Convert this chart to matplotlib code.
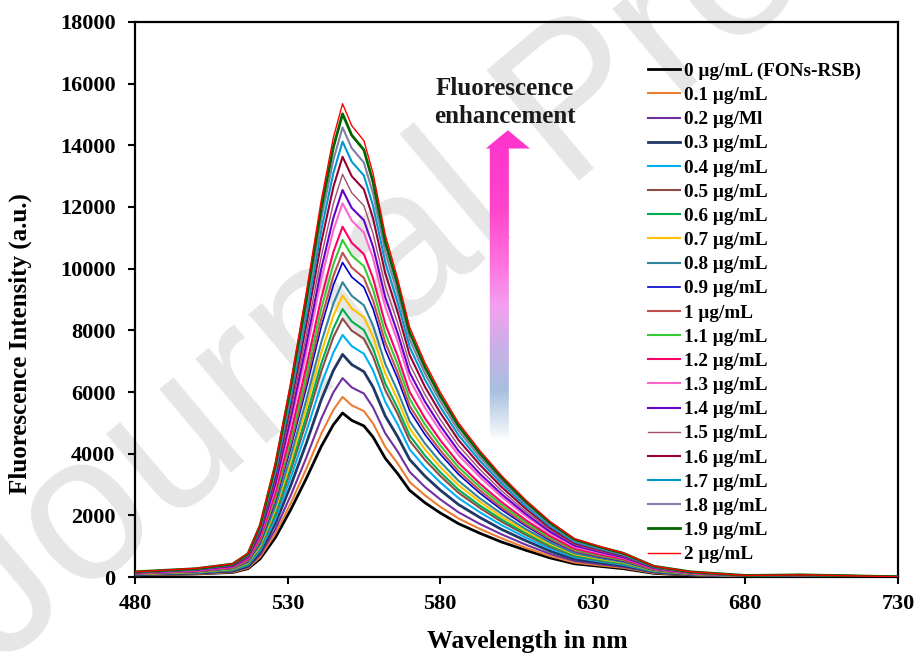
import numpy as np
import matplotlib
matplotlib.use('Agg')
import matplotlib.pyplot as plt
from matplotlib.colors import LinearSegmentedColormap
from matplotlib.patches import Polygon

plt.rcParams['font.family'] = ['Liberation Serif', 'DejaVu Serif']
plt.rcParams['font.weight'] = 'bold'

# wavelength grid (nm)
wl = [480, 500, 512, 517, 521, 526, 531, 536, 541, 545, 548, 551, 555, 558, 562,
      566, 570, 575, 580, 586, 593, 600, 608, 616, 624, 632, 640, 650, 662, 680, 698, 730]

labels = ['0 µg/mL (FONs-RSB)', '0.1 µg/mL', '0.2 µg/Ml', '0.3 µg/mL', '0.4 µg/mL',
          '0.5 µg/mL', '0.6 µg/mL', '0.7 µg/mL', '0.8 µg/mL', '0.9 µg/mL', '1 µg/mL',
          '1.1 µg/mL', '1.2 µg/mL', '1.3 µg/mL', '1.4 µg/mL', '1.5 µg/mL', '1.6 µg/mL',
          '1.7 µg/mL', '1.8 µg/mL', '1.9 µg/mL', '2 µg/mL']

colors = ['#000000', '#ED7D31', '#7030A0', '#1F3864', '#00B0F0', '#8E4B47', '#00B050',
          '#FFC000', '#31849B', '#0000CC', '#C0504D', '#33CC33', '#FF0066', '#FF66CC',
          '#6600CC', '#A05070', '#990033', '#0099CC', '#8080A8', '#006600', '#FF0000']

widths = [2.0, 1.5, 1.5, 2.0, 1.5, 1.5, 1.5, 1.5, 1.5, 1.2, 1.5, 1.5, 1.5, 1.5,
          1.5, 1.0, 1.5, 1.5, 1.5, 2.0, 1.0]

c00 = [60, 100, 150, 270, 590, 1280, 2180, 3170, 4230, 4940, 5320, 5080, 4900, 4540, 3850,
       3360, 2810, 2410, 2080, 1730, 1420, 1140, 870, 620, 430, 350, 270, 120, 60, 20, 20, 0]
c01 = [60, 100, 160, 290, 650, 1410, 2390, 3480, 4640, 5420, 5840, 5570, 5380, 4980, 4220,
       3690, 3080, 2650, 2280, 1900, 1560, 1260, 950, 680, 470, 380, 300, 130, 60, 20, 30, 0]
c02 = [70, 120, 180, 320, 720, 1550, 2640, 3840, 5130, 5990, 6450, 6150, 5950, 5500, 4660,
       4080, 3410, 2920, 2520, 2100, 1720, 1390, 1050, 750, 520, 420, 330, 150, 70, 20, 30, 0]
c03 = [80, 130, 200, 360, 800, 1740, 2960, 4300, 5740, 6700, 7220, 6890, 6660, 6160, 5220,
       4560, 3810, 3270, 2820, 2350, 1930, 1550, 1180, 840, 580, 470, 370, 170, 80, 20, 30, 10]
c04 = [90, 140, 220, 390, 870, 1890, 3220, 4680, 6240, 7280, 7850, 7490, 7240, 6700, 5680,
       4960, 4140, 3560, 3070, 2560, 2100, 1690, 1280, 920, 640, 510, 400, 180, 90, 20, 40, 10]
c05 = [90, 150, 230, 420, 930, 2020, 3440, 4990, 6660, 7780, 8380, 7990, 7730, 7150, 6060,
       5300, 4420, 3800, 3280, 2730, 2240, 1800, 1370, 980, 680, 540, 430, 190, 90, 30, 40, 10]
c06 = [100, 160, 240, 430, 960, 2090, 3560, 5180, 6910, 8060, 8690, 8290, 8010, 7410, 6280,
       5490, 4590, 3940, 3400, 2830, 2320, 1870, 1420, 1020, 700, 560, 440, 200, 100, 30, 40, 10]
c07 = [100, 160, 260, 460, 1010, 2200, 3740, 5440, 7260, 8470, 9130, 8710, 8420, 7790, 6600,
       5770, 4820, 4140, 3570, 2980, 2440, 1960, 1490, 1070, 740, 590, 470, 210, 100, 30, 40, 10]
c08 = [110, 170, 270, 480, 1060, 2300, 3920, 5700, 7600, 8870, 9560, 9120, 8810, 8150, 6910,
       6040, 5050, 4330, 3740, 3120, 2550, 2060, 1560, 1120, 770, 620, 490, 220, 110, 30, 40, 10]
c09 = [110, 180, 290, 510, 1130, 2460, 4180, 6080, 8110, 9470, 10200, 9730, 9400, 8700, 7370,
       6450, 5390, 4620, 3990, 3330, 2720, 2190, 1660, 1190, 830, 660, 520, 230, 110, 30, 50, 10]
c10 = [120, 190, 290, 530, 1170, 2540, 4310, 6270, 8360, 9760, 10520, 10040, 9700, 8970, 7610,
       6650, 5550, 4770, 4110, 3430, 2810, 2260, 1710, 1230, 850, 680, 540, 240, 120, 30, 50, 10]
c11 = [120, 200, 310, 550, 1210, 2630, 4480, 6510, 8690, 10140, 10930, 10430, 10080, 9320, 7900,
       6910, 5770, 4950, 4270, 3560, 2920, 2350, 1780, 1280, 890, 710, 560, 250, 120, 30, 50, 10]
c12 = [120, 200, 320, 570, 1260, 2740, 4660, 6770, 9030, 10540, 11360, 10840, 10470, 9690, 8210,
       7180, 6000, 5150, 4440, 3700, 3030, 2440, 1850, 1330, 920, 740, 580, 260, 120, 30, 50, 10]
c13 = [130, 220, 340, 610, 1350, 2920, 4970, 7220, 9640, 11250, 12120, 11560, 11170, 10340, 8760,
       7660, 6400, 5490, 4740, 3950, 3240, 2610, 1980, 1420, 980, 790, 620, 280, 130, 40, 50, 10]
c14 = [140, 230, 350, 630, 1390, 3020, 5150, 7480, 9980, 11650, 12550, 11970, 11570, 10710, 9070,
       7930, 6630, 5690, 4910, 4090, 3350, 2700, 2050, 1470, 1020, 820, 640, 290, 140, 40, 60, 10]
c15 = [140, 240, 370, 650, 1450, 3150, 5350, 7780, 10380, 12120, 13060, 12460, 12040, 11140, 9440,
       8250, 6900, 5920, 5110, 4260, 3490, 2810, 2130, 1530, 1060, 850, 670, 300, 140, 40, 60, 10]
c16 = [150, 250, 380, 680, 1510, 3280, 5590, 8120, 10840, 12650, 13630, 13000, 12570, 11630, 9850,
       8610, 7200, 6170, 5330, 4440, 3640, 2930, 2220, 1590, 1100, 890, 700, 310, 150, 40, 60, 10]
c17 = [160, 250, 400, 710, 1570, 3400, 5790, 8420, 11230, 13100, 14120, 13470, 13020, 12040, 10210,
       8920, 7460, 6400, 5520, 4600, 3770, 3040, 2300, 1650, 1140, 920, 720, 320, 160, 40, 60, 10]
c18 = [160, 260, 410, 730, 1620, 3510, 5980, 8690, 11590, 13530, 14580, 13910, 13440, 12440, 10540,
       9210, 7700, 6600, 5700, 4750, 3890, 3130, 2380, 1710, 1180, 950, 740, 340, 160, 40, 70, 10]
c19 = [170, 270, 420, 750, 1670, 3620, 6160, 8950, 11940, 13940, 15020, 14330, 13850, 12810, 10860,
       9490, 7930, 6800, 5870, 4900, 4010, 3230, 2450, 1760, 1220, 980, 770, 350, 170, 50, 70, 10]
c20 = [170, 280, 430, 770, 1700, 3700, 6290, 9150, 12200, 14250, 15350, 14640, 14150, 13090, 11100,
       9700, 8100, 6950, 6000, 5000, 4100, 3300, 2500, 1800, 1240, 1000, 780, 350, 170, 50, 70, 10]

curves = [c00, c01, c02, c03, c04, c05, c06, c07, c08, c09, c10, c11, c12, c13, c14,
          c15, c16, c17, c18, c19, c20]

fig = plt.figure(figsize=(9.16, 6.56), dpi=100)
ax = fig.add_axes([0.1474, 0.1204, 0.8329, 0.8461])
ax.set_facecolor('none')

# faint page watermark, behind everything
fig.text(-0.002, -0.018, 'Journal Pre-proof', family='Liberation Sans', fontsize=150,
         color='#E6E6E6', rotation=40, rotation_mode='anchor', ha='left', va='baseline',
         zorder=-1, fontweight='normal')

for y, c, lw, lab in zip(curves, colors, widths, labels):
    ax.plot(wl, y, color=c, lw=lw, label=lab, zorder=3)

# gradient arrow
cmap = LinearSegmentedColormap.from_list('enh', [
    (0.0, '#FFFFFF'), (0.06, '#DCE6F2'), (0.16, '#A9C0E0'), (0.30, '#C8B0E6'),
    (0.43, '#F4A0F0'), (0.58, '#FF70DD'), (0.75, '#FF44CC'), (1.0, '#FF33CC')])
grad = np.linspace(0, 1, 256).reshape(-1, 1)
sx0, sx1, hx0, hx1 = 0.465, 0.490, 0.4597, 0.5177
ay0, ay1, ayt = 0.245, 0.772, 0.805
arrow = Polygon([(sx0, ay0), (sx1, ay0), (sx1, ay1), (hx1, ay1), ((hx0 + hx1) / 2, ayt),
                 (hx0, ay1), (sx0, ay1)], closed=True, transform=ax.transAxes,
                facecolor='none', edgecolor='none')
ax.add_patch(arrow)
im = ax.imshow(grad, cmap=cmap, origin='lower', aspect='auto', transform=ax.transAxes,
               extent=[hx0, hx1, ay0, ayt], zorder=2)
im.set_clip_path(arrow)
ax.text(0.485, 0.855, 'Fluorescence\nenhancement', transform=ax.transAxes,
        ha='center', va='center', fontsize=18, fontweight='bold', color='#1A1A1A',
        linespacing=1.28)

ax.set_xlim(480, 730)
ax.set_ylim(0, 18000)
ax.set_xticks(range(480, 731, 50))
ax.set_yticks(range(0, 18001, 2000))
for s in ax.spines.values():
    s.set_linewidth(1.6)
ax.tick_params(axis='both', direction='out', length=5, width=1.5, labelsize=16)
ax.tick_params(axis='x', pad=7)
ax.tick_params(axis='y', pad=9)
for t in ax.get_xticklabels() + ax.get_yticklabels():
    t.set_fontweight('bold')

ax.set_xlabel('Wavelength in nm', fontsize=18.5, fontweight='bold')
ax.set_ylabel('Fluorescence Intensity (a.u.)', fontsize=18, fontweight='bold')
ax.xaxis.set_label_coords(0.514, -0.095)
ax.yaxis.set_label_coords(-0.135, 0.42)

ax.legend(loc='upper left', bbox_to_anchor=(0.672, 0.927), frameon=False,
          prop={'weight': 'bold', 'size': 13.8}, handlelength=1.67, handletextpad=0.21,
          labelspacing=0.352, borderpad=0, borderaxespad=0)

fig.savefig('out.png', dpi=100)
